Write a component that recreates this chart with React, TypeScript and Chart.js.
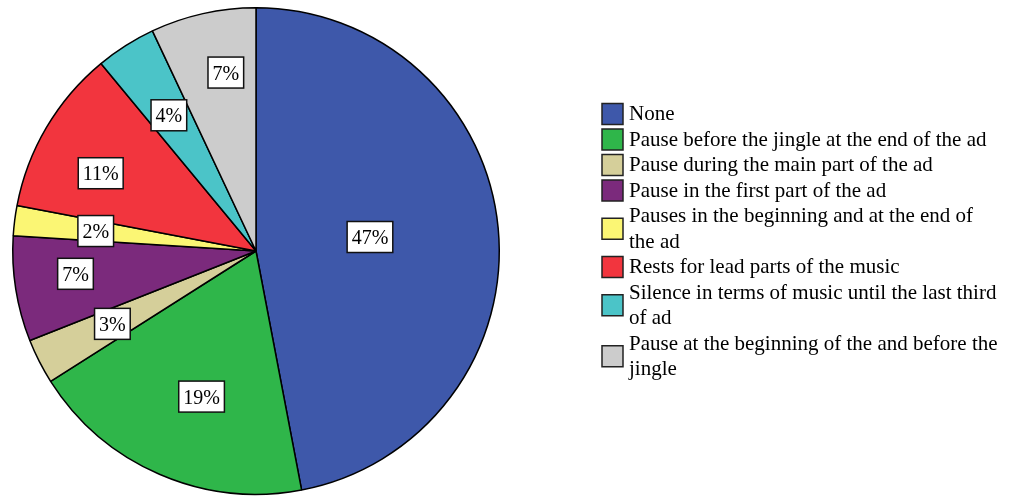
import React, { useEffect, useRef } from "react";
import { Chart, registerables } from "chart.js";

Chart.register(...registerables);

const categories: string[] = [
  "None",
  "Pause before the jingle at the end of the ad",
  "Pause during the main part of the ad",
  "Pause in the first part of the ad",
  "Pauses in the beginning and at the end of the ad",
  "Rests for lead parts of the music",
  "Silence in terms of music until the last third of ad",
  "Pause at the beginning of the and before the jingle",
];

const percentValues: number[] = [47, 19, 3, 7, 2, 11, 4, 7];

const sliceColors: string[] = [
  "#3e58aa",
  "#2fb64a",
  "#d5cf9a",
  "#7b2a7c",
  "#fbf674",
  "#f2353e",
  "#4bc4c8",
  "#cccccc",
];

// label placement: fraction of radius and small angular nudge (degrees)
const labelRadiusFrac: number[] = [0.472, 0.639, 0.662, 0.748, 0.664, 0.714, 0.663, 0.744];
const labelAngleNudge: number[] = [-1.6, -2.9, 0.1, 1.8, -0.1, -4.0, -0.3, 3.0];

const FONT = "20px 'Liberation Serif', 'Times New Roman', serif";
const LEGEND_FONT = "21px 'Liberation Serif', 'Times New Roman', serif";

const sliceLabelPlugin = {
  id: "sliceLabels",
  afterDatasetsDraw(chart: any) {
    const ctx = chart.ctx as CanvasRenderingContext2D;
    const meta = chart.getDatasetMeta(0);
    const data = chart.data.datasets[0].data as number[];
    const total = data.reduce((a, b) => a + b, 0);
    ctx.save();
    ctx.font = FONT;
    meta.data.forEach((arc: any, i: number) => {
      const p = arc.getProps(["x", "y", "startAngle", "endAngle", "outerRadius"], true);
      const mid = (p.startAngle + p.endAngle) / 2 + (labelAngleNudge[i] * Math.PI) / 180;
      const r = p.outerRadius * labelRadiusFrac[i];
      const cx = p.x + Math.cos(mid) * r;
      const cy = p.y + Math.sin(mid) * r;
      const text = Math.round((data[i] / total) * 100) + "%";
      const w = ctx.measureText(text).width + 9;
      const h = 31;
      ctx.fillStyle = "#ffffff";
      ctx.fillRect(cx - w / 2, cy - h / 2, w, h);
      ctx.strokeStyle = "#111111";
      ctx.lineWidth = 1.5;
      ctx.strokeRect(cx - w / 2, cy - h / 2, w, h);
      ctx.fillStyle = "#000000";
      ctx.textAlign = "center";
      ctx.textBaseline = "alphabetic";
      ctx.fillText(text, cx, cy + 7);
    });
    ctx.restore();
  },
};

const LEGEND_BOX_X = 602;
const LEGEND_TEXT_X = 629;
const LEGEND_FIRST_Y = 113;
const LEGEND_LINE_H = 25.5;
const LEGEND_MAX_W = 371;
const LEGEND_BOX = 21;

function wrap(ctx: CanvasRenderingContext2D, text: string, maxW: number): string[] {
  const words = text.split(" ");
  const lines: string[] = [];
  let cur = "";
  for (const w of words) {
    const t = cur ? cur + " " + w : w;
    if (ctx.measureText(t).width > maxW && cur) {
      lines.push(cur);
      cur = w;
    } else {
      cur = t;
    }
  }
  if (cur) lines.push(cur);
  return lines;
}

const legendPlugin = {
  id: "customLegend",
  afterDraw(chart: any) {
    const ctx = chart.ctx as CanvasRenderingContext2D;
    const labels = chart.data.labels as string[];
    const colors = chart.data.datasets[0].backgroundColor as string[];
    ctx.save();
    ctx.font = LEGEND_FONT;
    let y = LEGEND_FIRST_Y;
    labels.forEach((lab, i) => {
      const lines = wrap(ctx, lab, LEGEND_MAX_W);
      const firstY = y;
      const lastY = y + (lines.length - 1) * LEGEND_LINE_H;
      const boxCy = (firstY + lastY) / 2 + 1;
      ctx.fillStyle = colors[i];
      ctx.fillRect(LEGEND_BOX_X, boxCy - LEGEND_BOX / 2, LEGEND_BOX, LEGEND_BOX);
      ctx.strokeStyle = "#222222";
      ctx.lineWidth = 1.5;
      ctx.strokeRect(LEGEND_BOX_X, boxCy - LEGEND_BOX / 2, LEGEND_BOX, LEGEND_BOX);
      ctx.fillStyle = "#000000";
      ctx.textAlign = "left";
      ctx.textBaseline = "alphabetic";
      lines.forEach((ln, k) => {
        ctx.fillText(ln, LEGEND_TEXT_X, firstY + k * LEGEND_LINE_H + 7);
      });
      y = lastY + LEGEND_LINE_H;
    });
    ctx.restore();
  },
};

export default function App() {
  const ref = useRef<HTMLCanvasElement | null>(null);
  useEffect(() => {
    if (!ref.current) return;
    const chart = new Chart(ref.current, {
      type: "pie",
      data: {
        labels: categories,
        datasets: [
          {
            data: percentValues,
            backgroundColor: sliceColors,
            borderColor: "#000000",
            borderWidth: 1.5,
          },
        ],
      },
      options: {
        responsive: false,
        animation: false,
        layout: { padding: { left: 12, top: 7, right: 513, bottom: 1 } },
        plugins: {
          legend: { display: false },
          tooltip: { enabled: false },
        },
      },
      plugins: [sliceLabelPlugin, legendPlugin],
    });
    return () => chart.destroy();
  }, []);
  return (
    <div style={{ position: "fixed", left: 0, top: 0, width: 1013, height: 496, background: "#fff" }}>
      <canvas ref={ref} width={1013} height={496} />
    </div>
  );
}
